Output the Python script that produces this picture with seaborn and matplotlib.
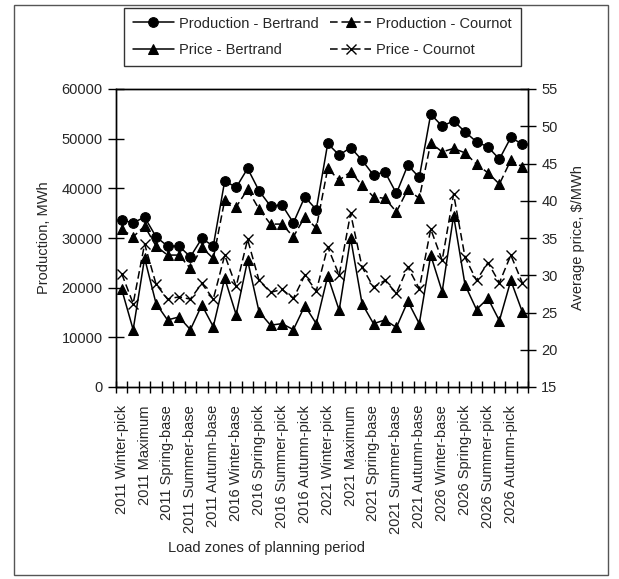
import numpy as np
import pandas as pd
import matplotlib
matplotlib.use("Agg")
import matplotlib.pyplot as plt
import seaborn as sns
from matplotlib.patches import Rectangle
from matplotlib.ticker import FixedLocator, NullFormatter, FixedFormatter

years = ["2011", "2016", "2021", "2026"]
zones = ["Winter-pick", "Winter-base", "Maximum", "Spring-pick", "Spring-base",
         "Summer-pick", "Summer-base", "Autumn-pick", "Autumn-base"]
categories = [f"{y} {z}" for y in years for z in zones]

production_bertrand = [33600, 33060, 34200, 30240, 28370, 28370, 26220, 29920, 28370,
                       41510, 40180, 44000, 39500, 36420, 36680, 33060, 38290, 35700,
                       49030, 46680, 48220, 45670, 42660, 43320, 38970, 44670, 42190,
                       54930, 52520, 53580, 51370, 49360, 48350, 45880, 50240, 48890]
production_cournot = [31730, 30240, 32390, 28370, 26560, 26560, 23880, 28110, 25890,
                      37630, 36280, 39780, 35810, 32800, 32800, 30240, 34270, 32000,
                      44000, 41650, 43320, 40640, 38290, 37970, 35270, 39780, 37970,
                      49150, 47340, 48030, 47140, 44870, 43120, 40850, 45670, 44330]
price_bertrand = [28.1, 22.7, 32.3, 26.2, 24.0, 24.4, 22.7, 26.0, 23.1,
                  29.6, 24.7, 32.0, 25.1, 23.3, 23.5, 22.7, 25.9, 23.5,
                  29.9, 25.3, 35.0, 26.2, 23.5, 24.0, 23.0, 26.5, 23.5,
                  32.7, 27.8, 38.0, 28.7, 25.4, 26.9, 23.9, 29.3, 25.1]
price_cournot = [30.2, 26.2, 34.2, 28.8, 26.8, 27.1, 26.8, 28.9, 26.8,
                 32.7, 28.5, 34.8, 29.3, 27.7, 28.1, 26.9, 30.0, 27.9,
                 33.8, 30.0, 38.3, 31.1, 28.4, 29.3, 27.6, 31.1, 28.2,
                 36.2, 32.0, 40.9, 32.4, 29.3, 31.7, 29.0, 32.7, 29.0]

df = pd.DataFrame({
    "idx": np.arange(len(categories)),
    "category": categories,
    "prod_b": production_bertrand,
    "prod_c": production_cournot,
    "price_b": price_bertrand,
    "price_c": price_cournot,
})

sns.set_style("white")
plt.rcParams["font.family"] = ["Liberation Sans", "DejaVu Sans"]
FS = 10.5

fig = plt.figure(figsize=(6.19, 5.79), dpi=100)
W, H = 619, 579
ax = fig.add_axes([116 / W, 1 - 387 / H, (528 - 116) / W, (387 - 89) / H])
ax2 = ax.twinx()

ms = 7
sns.lineplot(data=df, x="idx", y="prod_b", ax=ax, color="black", marker="o",
             markersize=ms, markeredgecolor="black", linewidth=1.1,
             label="Production - Bertrand", legend=False)
sns.lineplot(data=df, x="idx", y="prod_c", ax=ax, color="black", marker="^",
             markersize=ms, markeredgecolor="black", linewidth=1.1,
             dashes=False, linestyle=(0, (5, 2.5)),
             label="Production - Cournot", legend=False)
sns.lineplot(data=df, x="idx", y="price_b", ax=ax2, color="black", marker="^",
             markersize=ms, markeredgecolor="black", linewidth=1.1,
             label="Price - Bertrand", legend=False)
sns.lineplot(data=df, x="idx", y="price_c", ax=ax2, color="black", marker="x",
             markersize=7, markeredgewidth=1.0, markeredgecolor="black",
             markerfacecolor="black", linewidth=1.1,
             dashes=False, linestyle=(0, (5, 2.5)),
             label="Price - Cournot", legend=False)

ax.set_xlim(-0.5, len(categories) - 0.5)
ax.set_ylim(0, 60000)
ax2.set_ylim(15, 55)
ax.set_yticks(np.arange(0, 60001, 10000))
ax2.set_yticks(np.arange(15, 56, 5))

# ticks at category boundaries, labels at every other category centre
ax.xaxis.set_major_locator(FixedLocator(np.arange(-0.5, len(categories), 1.0)))
ax.xaxis.set_major_formatter(NullFormatter())
label_pos = np.arange(0, len(categories), 2)
ax.xaxis.set_minor_locator(FixedLocator(label_pos))
ax.xaxis.set_minor_formatter(FixedFormatter([categories[i] for i in label_pos]))
ax.tick_params(axis="x", which="minor", length=0, rotation=90, labelsize=FS, pad=13)
ax.tick_params(axis="x", which="major", direction="inout", length=9, width=1, color="black")
ax.tick_params(axis="y", direction="inout", length=11, width=1, labelsize=FS, pad=4, color="black")
ax2.tick_params(axis="y", direction="inout", length=11, width=1, labelsize=FS, pad=4, color="black")
ax.tick_params(axis="x", which="major", bottom=True)
ax.tick_params(axis="y", left=True)
ax2.tick_params(axis="y", right=True)

for a in (ax, ax2):
    for s in a.spines.values():
        s.set_color("black")
        s.set_linewidth(1.0)

ax.set_ylabel("Production, MWh", fontsize=FS, labelpad=8)
ax2.set_ylabel("Average price, \\$/MWh", fontsize=FS, labelpad=10)
ax.set_xlabel("Load zones of planning period", fontsize=FS)
ax.xaxis.set_label_coords((266 - 116) / 412, -(548 - 387) / 298)
ax.xaxis.label.set_va("center")

# legend
h1, l1 = ax.get_legend_handles_labels()
h2, l2 = ax2.get_legend_handles_labels()
handles = [h1[0], h2[0], h1[1], h2[1]]
labels = [l1[0], l2[0], l1[1], l2[1]]
leg = fig.legend(handles, labels, ncol=2, loc="lower left", mode="expand",
                 bbox_to_anchor=(117 / W, 1 - 73 / H, (528 - 117) / W, (73 - 14) / H),
                 fontsize=FS, frameon=True, fancybox=False, edgecolor="black",
                 handlelength=2.8, labelspacing=0.85, borderpad=0.6,
                 columnspacing=2.0, handletextpad=0.35)
leg.get_frame().set_linewidth(1.0)

# outer chart border
fig.patches.append(Rectangle((14 / W, 1 - 575 / H), (608 - 14) / W, (575 - 5) / H,
                             transform=fig.transFigure, fill=False,
                             edgecolor="#555555", linewidth=1.0))

fig.savefig("out.png", dpi=100)
